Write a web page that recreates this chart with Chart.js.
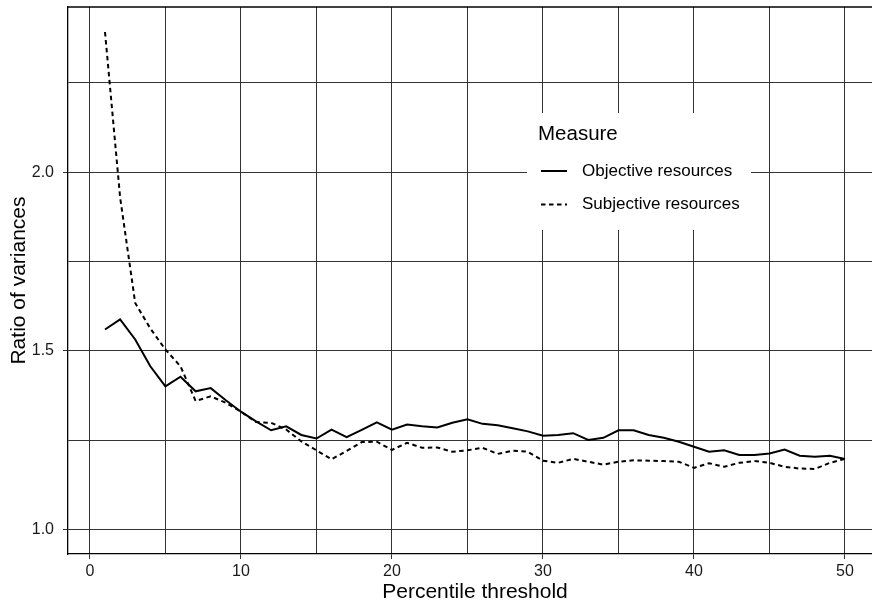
<!DOCTYPE html>
<html>
<head>
<meta charset="utf-8">
<title>Ratio of variances</title>
<script src="https://cdn.jsdelivr.net/npm/chart.js@4"></script>
<style>
  html, body { margin: 0; padding: 0; background: #fff; overflow: hidden; }
  #wrap { width: 872px; height: 603px; overflow: hidden; }
</style>
</head>
<body>
<div id="wrap"><canvas id="ratio-chart" width="882" height="603"></canvas></div>
<script>
// --------------- data --------------- //

const percentiles = [
  1, 2, 3, 4, 5, 6, 7, 8, 9, 10,
  11, 12, 13, 14, 15, 16, 17, 18, 19, 20,
  21, 22, 23, 24, 25, 26, 27, 28, 29, 30,
  31, 32, 33, 34, 35, 36, 37, 38, 39, 40,
  41, 42, 43, 44, 45, 46, 47, 48, 49, 50
];

const objectiveRatios = [
  1.560, 1.588, 1.532, 1.457, 1.401, 1.428, 1.387, 1.396, 1.362, 1.330,
  1.303, 1.278, 1.289, 1.265, 1.255, 1.280, 1.259, 1.279, 1.300, 1.280,
  1.294, 1.289, 1.286, 1.299, 1.309, 1.296, 1.292, 1.284, 1.275, 1.263,
  1.265, 1.270, 1.251, 1.257, 1.278, 1.278, 1.265, 1.257, 1.246, 1.232,
  1.218, 1.222, 1.209, 1.209, 1.213, 1.224, 1.207, 1.204, 1.207, 1.198
];

const subjectiveRatios = [
  2.392, 1.930, 1.634, 1.563, 1.504, 1.457, 1.360, 1.373, 1.355, 1.330,
  1.301, 1.299, 1.280, 1.247, 1.222, 1.197, 1.220, 1.245, 1.246, 1.223,
  1.243, 1.229, 1.230, 1.218, 1.222, 1.229, 1.212, 1.221, 1.218, 1.193,
  1.187, 1.198, 1.190, 1.182, 1.190, 1.194, 1.193, 1.192, 1.190, 1.173,
  1.186, 1.176, 1.187, 1.192, 1.187, 1.176, 1.171, 1.170, 1.187, 1.198
];

const seriesLabels = ['Objective resources', 'Subjective resources'];
const legendTitle = 'Measure';

const xTickStep = 5;    // grid every 5, labels every 10
const yTickStep = 0.25; // grid every 0.25, labels every 0.5

// --------------- chart --------------- //

const FONT = '"Liberation Sans", Arial, Helvetica, sans-serif';
const GRID = '#333';

function toPoints(values) {
  return values.map((v, i) => ({ x: percentiles[i], y: v }));
}

function isHalf(v) {
  return Math.abs(v * 2 - Math.round(v * 2)) < 1e-6;
}

// top edge of the panel
const panelFrame = {
  id: 'panelFrame',
  afterDatasetsDraw(chart) {
    const { ctx, chartArea } = chart;
    ctx.save();
    ctx.strokeStyle = '#000';
    ctx.lineWidth = 1.3;
    ctx.beginPath();
    ctx.moveTo(chartArea.left, chartArea.top);
    ctx.lineTo(chartArea.right, chartArea.top);
    ctx.stroke();
    ctx.restore();
  }
};

// legend sits inside the panel on a white box
const insideLegend = {
  id: 'insideLegend',
  afterDatasetsDraw(chart) {
    const ctx = chart.ctx;
    ctx.save();
    ctx.fillStyle = '#fff';
    ctx.fillRect(527, 113, 224, 117);

    ctx.fillStyle = '#000';
    ctx.textBaseline = 'middle';
    ctx.textAlign = 'left';
    ctx.font = '20.5px ' + FONT;
    ctx.fillText(legendTitle, 538, 134);

    chart.data.datasets.forEach((ds, i) => {
      const y = 171 + i * 33.5;
      ctx.strokeStyle = ds.borderColor;
      ctx.lineWidth = ds.borderWidth;
      ctx.setLineDash(ds.borderDash || []);
      ctx.beginPath();
      ctx.moveTo(541, y);
      ctx.lineTo(567, y);
      ctx.stroke();
      ctx.setLineDash([]);
      ctx.font = '17px ' + FONT;
      ctx.fillStyle = '#000';
      ctx.fillText(ds.label, 582, y);
    });
    ctx.restore();
  }
};

const ratioData = {
  datasets: [{
    label: seriesLabels[0],
    data: toPoints(objectiveRatios),
    borderColor: '#000',
    borderWidth: 2,
    pointRadius: 0,
    tension: 0,
  }, {
    label: seriesLabels[1],
    data: toPoints(subjectiveRatios),
    borderColor: '#000',
    borderWidth: 2,
    borderDash: [4.5, 3.5],
    pointRadius: 0,
    tension: 0,
  }]
};

const ratioOptions = {
  responsive: false,
  devicePixelRatio: 1,
  animation: false,
  layout: {
    padding: { top: 7, left: 0, right: 0, bottom: 0 }
  },
  plugins: {
    legend: { display: false },
    tooltip: { enabled: false },
  },
  scales: {
    x: {
      type: 'linear',
      min: -1.45,
      max: 52.45,
      afterFit(scale) {
        scale.height = 49;
        scale.paddingLeft = 0;
        scale.paddingRight = 0;
      },
      border: { color: '#000', width: 1.3 },
      grid: {
        color: GRID,
        lineWidth: 1,
        tickLength: 5,
        tickColor: (c) => (c.tick && c.tick.value % 10 === 0) ? GRID : 'rgba(0,0,0,0)',
      },
      ticks: {
        stepSize: xTickStep,
        includeBounds: false,
        padding: 3,
        color: '#1a1a1a',
        font: { family: FONT, size: 16 },
        maxRotation: 0,
        autoSkip: false,
        callback: (value) => value % 10 === 0 ? value : '',
      },
      title: {
        display: true,
        text: 'Percentile threshold',
        color: '#000',
        font: { family: FONT, size: 21, lineHeight: 1 },
        padding: { top: 0, bottom: 0 },
      }
    },
    y: {
      min: 0.932,
      max: 2.462,
      afterFit(scale) {
        scale.width = 68;
        scale.paddingTop = 0;
        scale.paddingBottom = 0;
      },
      border: { color: '#000', width: 1.3 },
      grid: {
        color: GRID,
        lineWidth: 1,
        tickLength: 5,
        tickColor: (c) => (c.tick && isHalf(c.tick.value)) ? GRID : 'rgba(0,0,0,0)',
      },
      ticks: {
        stepSize: yTickStep,
        includeBounds: false,
        padding: 9,
        color: '#1a1a1a',
        font: { family: FONT, size: 16 },
        autoSkip: false,
        callback: (value) => isHalf(value) ? value.toFixed(1) : '',
      },
      title: {
        display: true,
        text: 'Ratio of variances',
        color: '#000',
        font: { family: FONT, size: 21, lineHeight: 1 },
        padding: { top: 9, bottom: 0 },
      }
    }
  }
};

const ratioConfig = {
  type: 'line',
  data: ratioData,
  plugins: [panelFrame, insideLegend],
  options: ratioOptions
};

const ratioChart = new Chart(
  document.getElementById('ratio-chart'),
  ratioConfig
);
</script>
</body>
</html>
